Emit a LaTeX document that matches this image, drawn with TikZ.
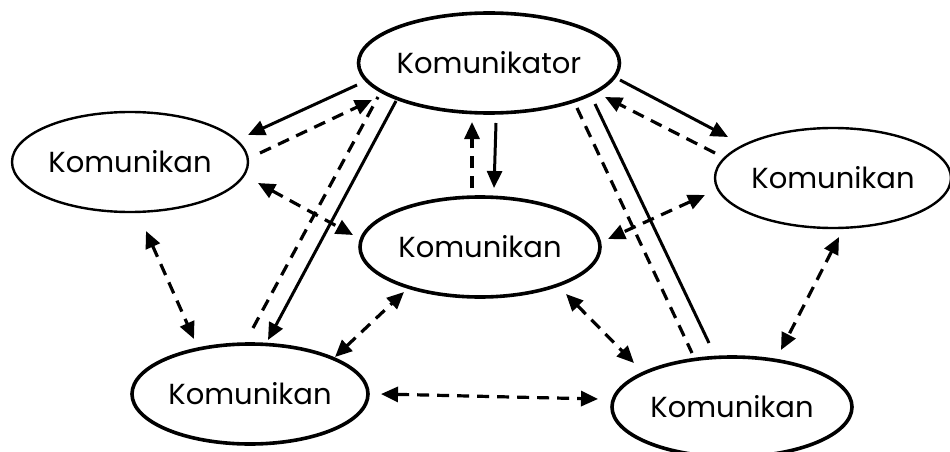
\documentclass[tikz,border=0pt]{standalone}
\usepackage{fontspec}
\setmainfont{Poppins}
\usetikzlibrary{shapes.geometric,arrows.meta}

\tikzset{
  party/.style={ellipse, draw, inner sep=0pt, minimum width=236pt,
    minimum height=100pt, font=\fontsize{29}{34}\selectfont},
  heavy/.style={line width=3.6pt},
  light/.style={line width=2.4pt},
  tip/.tip={Triangle[length=17pt,width=15pt]},
  flow/.style={line width=3pt},
  ret/.style={line width=3.2pt, dash pattern=on 12pt off 8pt},
  oneway/.style={flow, -tip},
  backway/.style={ret, -tip},
  twoway/.style={ret, tip-tip},
}

\begin{document}
\begin{tikzpicture}[x=1pt, y=-1pt]
  \useasboundingbox (0,0) rectangle (950,452);

  % participants
  \node[party, heavy] (K)  at (489,63)  {Komunikator};
  \node[party, light] (TL) at (130,162) {Komunikan};
  \node[party, heavy, minimum width=240pt] (C) at (480,247) {Komunikan};
  \node[party, light] (R)  at (833,178) {Komunikan};
  \node[party, heavy] (BL) at (250,394) {Komunikan};
  \node[party, heavy, minimum width=240pt] (BR) at (732,407) {Komunikan};

  % messages from the communicator and replies
  \draw[oneway]  ([shift={(-132,22)}]K.center) -- ([shift={(118,-27)}]TL.center);
  \draw[backway] ([shift={(130,-9)}]TL.center) -- ([shift={(-117,37)}]K.center);
  \draw[oneway]  ([shift={(-93,38)}]K.center)  -- ([shift={(18,-54)}]BL.center);
  \draw[ret]     ([shift={(3,-66)}]BL.center)  -- ([shift={(-111,34)}]K.center);
  \draw[oneway]  ([shift={(7,60)}]K.center)    -- ([shift={(14,-59)}]C.center);
  \draw[backway] ([shift={(-8,-59)}]C.center)  -- ([shift={(-17,59)}]K.center);
  \draw[oneway]  ([shift={(131,17)}]K.center)  -- ([shift={(-105,-41)}]R.center);
  \draw[backway] ([shift={(-118,-25)}]R.center) -- ([shift={(116,34)}]K.center);
  \draw[flow]    ([shift={(106,41)}]K.center)  -- ([shift={(-23,-64)}]BR.center);
  \draw[ret]     ([shift={(88,45)}]K.center)   -- ([shift={(-40,-54)}]BR.center);

  % exchanges among the communicants
  \draw[twoway] ([shift={(128,21)}]TL.center) -- ([shift={(-127,-12)}]C.center);
  \draw[twoway] ([shift={(-128,17)}]R.center) -- ([shift={(128,-8)}]C.center);
  \draw[twoway] ([shift={(16,69)}]TL.center)  -- ([shift={(-56,-55)}]BL.center);
  \draw[twoway] ([shift={(85,-37)}]BL.center) -- ([shift={(-76,45)}]C.center);
  \draw[twoway] ([shift={(131,0)}]BL.center)  -- ([shift={(-134,-8)}]BR.center);
  \draw[twoway] ([shift={(86,47)}]C.center)   -- ([shift={(-98,-44)}]BR.center);
  \draw[twoway] ([shift={(6,59)}]R.center)    -- ([shift={(49,-57)}]BR.center);
\end{tikzpicture}
\end{document}
